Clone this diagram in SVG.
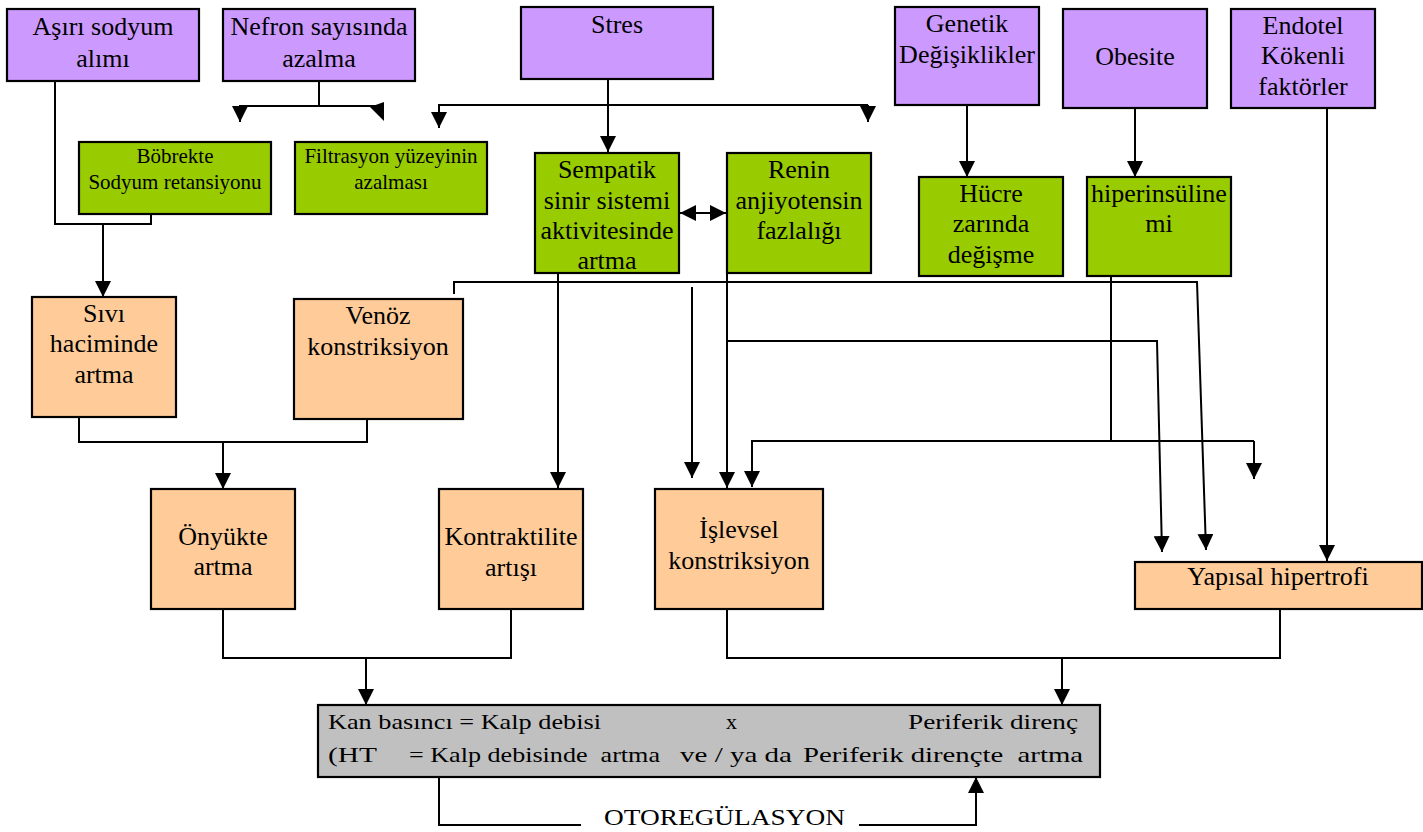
<svg xmlns="http://www.w3.org/2000/svg" width="1423" height="832" viewBox="0 0 1423 832">
<style>
rect{stroke:#000;stroke-width:2.2}
.p{fill:#CC99FF}
.g{fill:#99CC00}
.o{fill:#FFCC99}
.s{fill:#C0C0C0}
text{font-family:'Liberation Serif','Times New Roman',serif;font-size:26px;fill:#000}
.m{text-anchor:middle}
.sm{font-size:21px}
.b{font-size:22px}
.c path{fill:none;stroke:#000;stroke-width:2}
</style>
<defs>
<marker id="ah" viewBox="0 0 16 16" refX="16" refY="8" markerWidth="16" markerHeight="16" markerUnits="userSpaceOnUse" orient="auto"><path d="M0,0 L16,8 L0,16 z" fill="#000"/></marker>
<marker id="ah2" viewBox="0 0 16 16" refX="16" refY="8" markerWidth="16" markerHeight="16" markerUnits="userSpaceOnUse" orient="auto-start-reverse"><path d="M0,0 L16,8 L0,16 z" fill="#000"/></marker>
</defs>
<rect x="0" y="0" width="1423" height="832" style="fill:#fff;stroke:none"/>

<g class="c" id="connectors">
<path d="M55,81 V224 H151 V214"/>
<path d="M103,224 V297" marker-end="url(#ah)"/>
<path d="M319,81 V106"/>
<path d="M383,106 H240 V122" marker-end="url(#ah)"/>
<polygon points="370,107 384,102 384,121" fill="#000"/>
<path d="M608,79 V152" marker-end="url(#ah)"/>
<path d="M868,105 H439 V128" marker-end="url(#ah)"/>
<path d="M868,105 V122" marker-end="url(#ah)"/>
<path d="M680,213 H726" marker-start="url(#ah2)" marker-end="url(#ah2)"/>
<path d="M967,105 V177" marker-end="url(#ah)"/>
<path d="M1135,108 V177" marker-end="url(#ah)"/>
<path d="M1327,108 V561" marker-end="url(#ah)"/>
<path d="M558,273 V488" marker-end="url(#ah)"/>
<path d="M454,294 V282 H1197 L1206,550" marker-end="url(#ah)"/>
<path d="M727,273 V488" marker-end="url(#ah)"/>
<path d="M727,341 H1157 L1162,552" marker-end="url(#ah)"/>
<path d="M692,287 V478" marker-end="url(#ah)"/>
<path d="M1111,276 V441"/>
<path d="M1254,441 H752 V487" marker-end="url(#ah)"/>
<path d="M1254,441 V479" marker-end="url(#ah)"/>
<path d="M79,417 V442 H367 V419"/>
<path d="M223,442 V489" marker-end="url(#ah)"/>
<path d="M223,609 V658 H511 V609"/>
<path d="M366,658 V705" marker-end="url(#ah)"/>
<path d="M727,609 V658 H1280 V609"/>
<path d="M1062,658 V705" marker-end="url(#ah)"/>
<path d="M439,777 V825 H581"/>
<path d="M859,825 H976 V777" marker-end="url(#ah)"/>
</g>

<g id="n-asiri"><rect class="p" x="7" y="9" width="192" height="72"/><text class="m" x="103" y="35">Aşırı sodyum</text><text class="m" x="103" y="67">alımı</text></g>
<g id="n-nefron"><rect class="p" x="223" y="9" width="192" height="72"/><text class="m" x="319" y="35">Nefron sayısında</text><text class="m" x="319" y="67">azalma</text></g>
<g id="n-stres"><rect class="p" x="521" y="7" width="192" height="72"/><text class="m" x="617" y="33">Stres</text></g>
<g id="n-genetik"><rect class="p" x="895" y="7" width="144" height="98"/><text class="m" x="967" y="32">Genetik</text><text class="m" x="967" y="63">Değişiklikler</text></g>
<g id="n-obesite"><rect class="p" x="1063" y="9" width="144" height="99"/><text class="m" x="1135" y="65">Obesite</text></g>
<g id="n-endotel"><rect class="p" x="1231" y="9" width="144" height="99"/><text class="m" x="1303" y="34">Endotel</text><text class="m" x="1303" y="64">Kökenli</text><text class="m" x="1303" y="95">faktörler</text></g>

<g id="n-bobrek"><rect class="g" x="79" y="142" width="192" height="72"/><text class="m sm" x="175" y="163">Böbrekte</text><text class="m sm" x="175" y="189">Sodyum retansiyonu</text></g>
<g id="n-filtrasyon"><rect class="g" x="295" y="142" width="192" height="72"/><text class="m sm" x="391" y="163">Filtrasyon yüzeyinin</text><text class="m sm" x="391" y="189">azalması</text></g>
<g id="n-sempatik"><rect class="g" x="535" y="153" width="144" height="120"/><text class="m" x="607" y="178">Sempatik</text><text class="m" x="607" y="209">sinir sistemi</text><text class="m" x="607" y="239">aktivitesinde</text><text class="m" x="607" y="269">artma</text></g>
<g id="n-renin"><rect class="g" x="727" y="153" width="144" height="120"/><text class="m" x="799" y="178">Renin</text><text class="m" x="799" y="209">anjiyotensin</text><text class="m" x="799" y="239">fazlalığı</text></g>
<g id="n-hucre"><rect class="g" x="919" y="177" width="144" height="99"/><text class="m" x="991" y="202">Hücre</text><text class="m" x="991" y="232">zarında</text><text class="m" x="991" y="263">değişme</text></g>
<g id="n-hiper"><rect class="g" x="1087" y="177" width="144" height="99"/><text class="m" x="1159" y="202">hiperinsüline</text><text class="m" x="1159" y="232">mi</text></g>

<g id="n-sivi"><rect class="o" x="32" y="297" width="144" height="120"/><text class="m" x="104" y="322">Sıvı</text><text class="m" x="104" y="352">haciminde</text><text class="m" x="104" y="383">artma</text></g>
<g id="n-venoz"><rect class="o" x="294" y="299" width="169" height="120"/><text class="m" x="378" y="324">Venöz</text><text class="m" x="378" y="355">konstriksiyon</text></g>
<g id="n-onyukte"><rect class="o" x="151" y="489" width="144" height="120"/><text class="m" x="223" y="545">Önyükte</text><text class="m" x="223" y="575">artma</text></g>
<g id="n-kontrak"><rect class="o" x="439" y="489" width="144" height="120"/><text class="m" x="511" y="545">Kontraktilite</text><text class="m" x="511" y="576">artışı</text></g>
<g id="n-islevsel"><rect class="o" x="655" y="489" width="168" height="120"/><text class="m" x="739" y="538">İşlevsel</text><text class="m" x="739" y="569">konstriksiyon</text></g>
<g id="n-yapisal"><rect class="o" x="1135" y="562" width="287" height="47"/><text class="m" x="1278" y="585">Yapısal hipertrofi</text></g>

<g id="n-kan"><rect class="s" x="318" y="705" width="782" height="72"/>
<text class="b" x="328" y="729" textLength="273" lengthAdjust="spacingAndGlyphs">Kan basıncı = Kalp debisi</text>
<text class="b" x="726" y="729" textLength="11" lengthAdjust="spacingAndGlyphs">x</text>
<text class="b" x="908" y="729" textLength="170" lengthAdjust="spacingAndGlyphs">Periferik direnç</text>
<text class="b" x="328" y="762" textLength="49" lengthAdjust="spacingAndGlyphs">(HT</text>
<text class="b" x="409" y="762" textLength="251" lengthAdjust="spacingAndGlyphs" xml:space="preserve">= Kalp debisinde  artma</text>
<text class="b" x="680" y="762" textLength="112" lengthAdjust="spacingAndGlyphs">ve / ya da</text>
<text class="b" x="803" y="762" textLength="280" lengthAdjust="spacingAndGlyphs" xml:space="preserve">Periferik dirençte  artma</text>
</g>
<g id="n-oto"><text x="604" y="825" style="font-size:23px" textLength="241" lengthAdjust="spacingAndGlyphs">OTOREGÜLASYON</text></g>
</svg>
